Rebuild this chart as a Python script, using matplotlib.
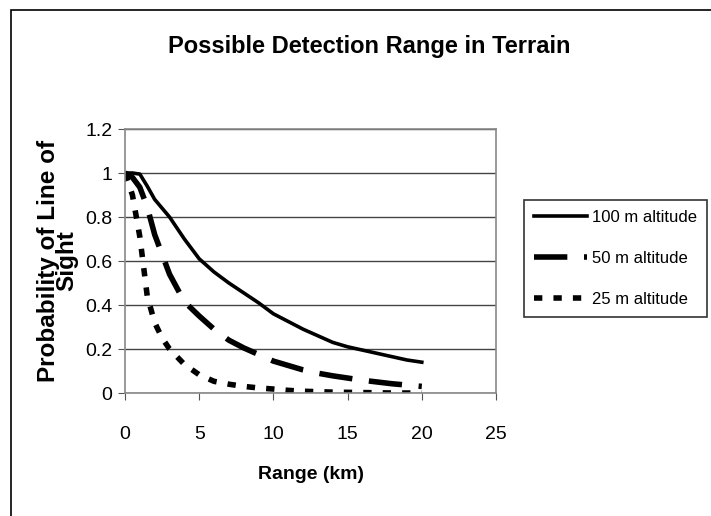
import matplotlib
matplotlib.use('Agg')
import matplotlib.pyplot as plt
from matplotlib.patches import Rectangle

plt.rcParams['font.family'] = ['Liberation Sans', 'DejaVu Sans']

# values
range_km = [0, 0.5, 1, 1.5, 2, 2.5, 3, 4, 5, 6, 7, 8, 9, 10, 11, 12, 13, 14, 15, 16, 17, 18, 19, 20]
alt_100 = [1.0, 1.0, 0.995, 0.94, 0.88, 0.84, 0.80, 0.70, 0.61, 0.55, 0.50, 0.455, 0.41, 0.36,
           0.325, 0.29, 0.26, 0.23, 0.21, 0.195, 0.18, 0.165, 0.15, 0.14]
alt_50 = [1.0, 0.98, 0.935, 0.845, 0.72, 0.63, 0.54, 0.415, 0.35, 0.29, 0.24, 0.205, 0.175,
          0.145, 0.125, 0.105, 0.09, 0.078, 0.068, 0.058, 0.05, 0.042, 0.036, 0.03]
alt_25 = [1.0, 0.9, 0.71, 0.44, 0.32, 0.25, 0.20, 0.13, 0.083, 0.053, 0.04, 0.03, 0.023,
          0.018, 0.012, 0.008, 0.006, 0.004, 0.003, 0.002, 0.001, 0.0, 0.0, 0.0]
labels = ['100 m altitude', '50 m altitude', '25 m altitude']
x_ticks = [0, 5, 10, 15, 20, 25]
y_ticks = [0, 0.2, 0.4, 0.6, 0.8, 1, 1.2]
y_tick_labels = ['0', '0.2', '0.4', '0.6', '0.8', '1', '1.2']

fig = plt.figure(figsize=(7.11, 5.16), dpi=100)
fig.patches.append(Rectangle((11 / 711, -0.1), 1.2, 1 - 10 / 516 + 0.1, transform=fig.transFigure,
                             fill=False, edgecolor='black', linewidth=1.2))
ax = fig.add_axes([125 / 711, 1 - 393 / 516, (496 - 125) / 711, (393 - 129) / 516])

ax.plot(range_km, alt_100, color='black', linewidth=2.6, linestyle='-', label=labels[0])
ax.plot(range_km, alt_50, color='black', linewidth=4, linestyle=(0, (6, 3)), label=labels[1])
ax.plot(range_km, alt_25, color='black', linewidth=4, linestyle=(0, (1.5, 2)), label=labels[2])

ax.set_xlim(0, 25)
ax.set_ylim(0, 1.2)
ax.set_xticks(x_ticks)
ax.set_yticks(y_ticks)
ax.set_yticklabels(y_tick_labels)
ax.grid(axis='y', color='#444444', linewidth=1)
ax.set_axisbelow(True)
for s in ax.spines.values():
    s.set_color('#888888')
    s.set_linewidth(1.2)
ax.tick_params(axis='x', direction='out', length=5, pad=19, labelsize=14, color='#555555')
ax.tick_params(axis='y', direction='out', length=5, pad=4, labelsize=14, color='#555555')

ax.set_xlabel('Range (km)', fontsize=14, fontweight='bold', labelpad=16)
ax.set_ylabel('Probability of Line of\nSight', fontsize=17.5, fontweight='bold', labelpad=5,
              linespacing=0.72)

fig.text(369 / 711, 1 - 46 / 516, 'Possible Detection Range in Terrain', ha='center', va='center',
         fontsize=17, fontweight='bold')

leg = ax.legend(loc='upper left', bbox_to_anchor=(524 / 711, 1 - 200 / 516),
                bbox_transform=fig.transFigure, frameon=True, fancybox=False, fontsize=12,
                handlelength=3.2, handletextpad=0.25, labelspacing=1.55, borderpad=0.6,
                borderaxespad=0)
leg.get_frame().set_edgecolor('black')
leg.get_frame().set_linewidth(1.2)

fig.savefig('out.png', dpi=100)
